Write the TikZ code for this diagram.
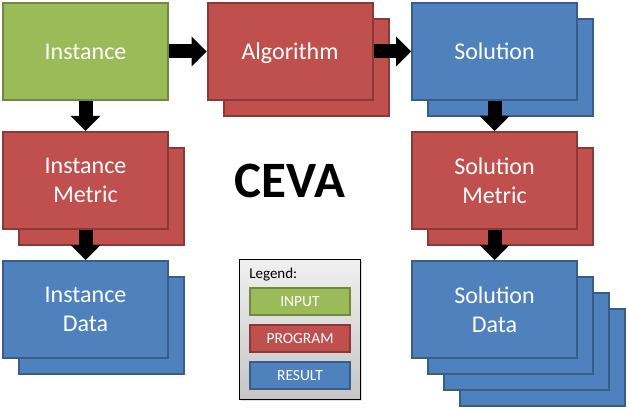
\documentclass[tikz,border=0pt]{standalone}
\usepackage{fontspec}
\setmainfont{Carlito}
\usetikzlibrary{positioning,arrows.meta,backgrounds,shadows}

\definecolor{ingreen}{HTML}{9BBB59}
\definecolor{ingreenD}{HTML}{71893F}
\definecolor{progred}{HTML}{C0504D}
\definecolor{progredD}{HTML}{8C3836}
\definecolor{resblue}{HTML}{4F81BD}
\definecolor{resblueD}{HTML}{385D8A}

\tikzset{
  box/.style={rectangle,draw,line width=2pt,minimum width=165pt,minimum height=97pt,
    text=white,align=center,text depth=0pt,font=\fontsize{24}{29}\selectfont},
  input/.style={box,fill=ingreen,draw=ingreenD},
  program/.style={box,fill=progred,draw=progredD},
  result/.style={box,fill=resblue,draw=resblueD},
  legitem/.style={minimum width=100pt,minimum height=27pt,font=\fontsize{15.5}{18}\selectfont},
  legendbox/.style={rectangle,draw=black,line width=0.8pt,top color=gray!12,bottom color=gray!45,
    minimum width=121pt,minimum height=140pt,
    drop shadow={shadow xshift=1pt,shadow yshift=-1.5pt,opacity=0.25}},
  flow/.style={line width=14pt,-{Triangle[width=30pt,length=15pt,line width=0pt]}},
}

\begin{document}
\begin{tikzpicture}[node distance=30pt and 37.5pt]
  \useasboundingbox (0,0) rectangle (627pt,-409pt);
  \path (85.5pt,-51.5pt) node[input] (inst) {Instance};
  \path node[program,right=of inst] (alg) {Algorithm};
  \path node[result,right=of alg] (sol) {Solution};
  \path node[program,below=of inst] (imet) {Instance\\Metric};
  \path node[result,below=of imet] (idat) {Instance\\Data};
  \path node[program,below=of sol] (smet) {Solution\\Metric};
  \path node[result,below=of smet] (sdat) {Solution\\Data};
  % stacked copies behind
  \begin{pgfonlayer}{background}
    \path ([shift={(16pt,-16pt)}]alg.center) node[program] {};
    \path ([shift={(16pt,-16pt)}]sol.center) node[result] {};
    \path ([shift={(16pt,-16pt)}]imet.center) node[program] {};
    \path ([shift={(16pt,-16pt)}]idat.center) node[result] {};
    \path ([shift={(16pt,-16pt)}]smet.center) node[program] {};
    \foreach \k in {3,2,1}
      \path ([shift={(\k*16pt,-\k*16pt)}]sdat.center) node[result] {};
  \end{pgfonlayer}
  \draw[flow] (inst) -- (alg);
  \draw[flow] (alg) -- (sol);
  \draw[flow] (inst) -- (imet);
  \draw[flow] (imet) -- (idat);
  \draw[flow] (sol) -- (smet);
  \draw[flow] (smet) -- (sdat);
  \path (alg |- imet) node[font=\bfseries\fontsize{51}{60}\selectfont] (ceva) {CEVA};
  % legend
  \path (300pt,-329.5pt) node[legendbox] (legend) {};
  \path ([shift={(10pt,-15.5pt)}]legend.north west) node[anchor=west,inner sep=0pt,
    font=\fontsize{15}{18}\selectfont] (legtitle) {Legend:};
  \path ([yshift=-42pt]legend.north) node[input,legitem] (lin) {INPUT};
  \path node[program,legitem,below=8pt of lin] (lprog) {PROGRAM};
  \path node[result,legitem,below=8pt of lprog] (lres) {RESULT};
\end{tikzpicture}
\end{document}
